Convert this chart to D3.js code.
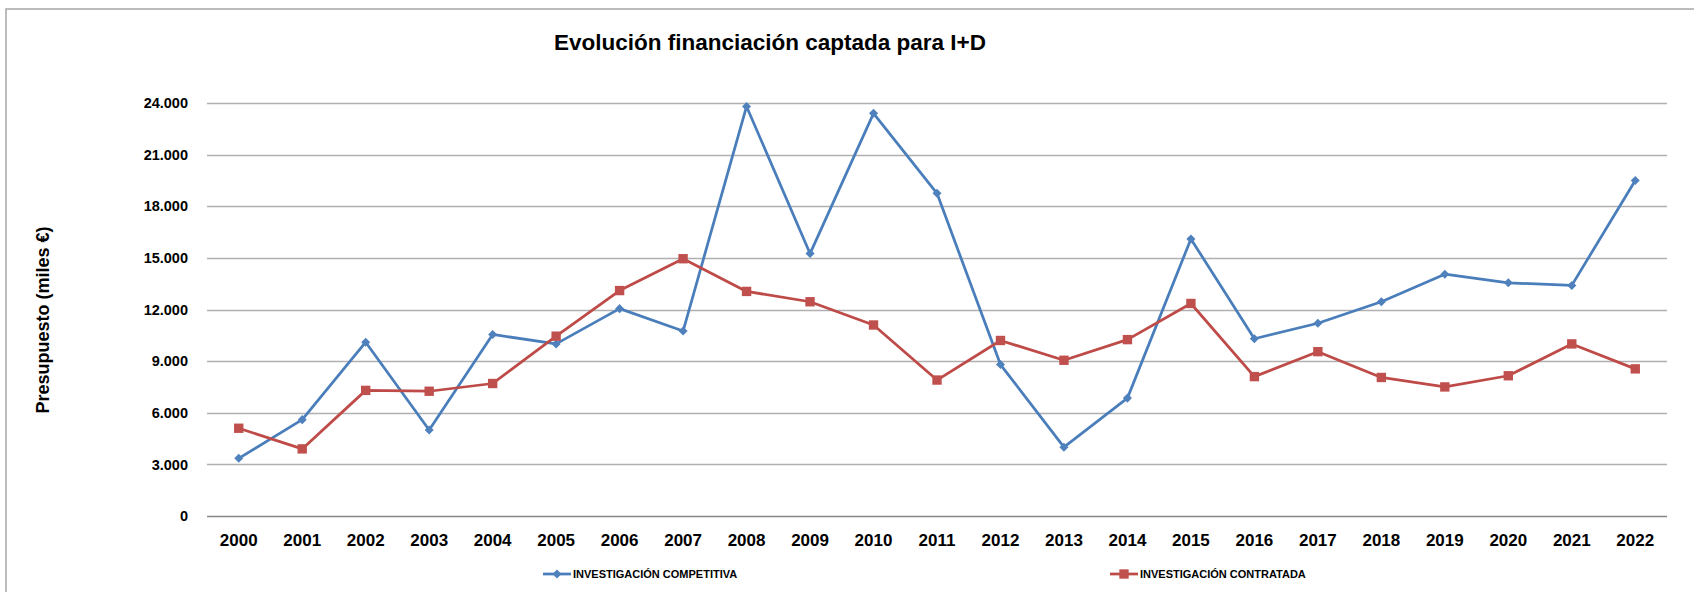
<!DOCTYPE html>
<html lang="es">
<head>
  <meta charset="UTF-8">
  <title>Evolución financiación captada para I+D</title>
  <script src="https://cdn.jsdelivr.net/npm/d3@7"></script>
  <style>
    body { margin: 0; background: #fff; }
    svg { display: block; font-family: "Liberation Sans", Arial, sans-serif; font-weight: bold; }
  </style>
</head>
<body>
  <svg width="1694" height="592"></svg>

  <script>
    // years on the x axis
    var years = ["2000", "2001", "2002", "2003", "2004", "2005", "2006", "2007", "2008", "2009", "2010", "2011",
                 "2012", "2013", "2014", "2015", "2016", "2017", "2018", "2019", "2020", "2021", "2022"];

    // miles de euros
    var competitiva = [3350, 5600, 10100, 5000, 10550, 10000, 12050, 10750, 23800, 15250, 23400, 18750,
                       8800, 4000, 6850, 16100, 10300, 11200, 12450, 14050, 13550, 13400, 19500];
    var contratada = [5100, 3900, 7300, 7250, 7700, 10450, 13100, 14950, 13050, 12450, 11100, 7900,
                      10200, 9050, 10250, 12350, 8100, 9550, 8050, 7500, 8150, 10000, 8550];

    var seriesNames = ["INVESTIGACIÓN COMPETITIVA", "INVESTIGACIÓN CONTRATADA"];
    var yTicks = [0, 3000, 6000, 9000, 12000, 15000, 18000, 21000, 24000];

    var W = 1694, H = 592;
    var margin = {top: 103, right: 27, bottom: 76, left: 207};

    var svg = d3.select("svg");

    // chart frame (only top and left edges are visible)
    svg.append("path")
      .attr("d", "M6,592V9H1694")
      .attr("fill", "none")
      .attr("stroke", "#a6a6a6")
      .attr("stroke-width", 1.5);

    svg.append("text")
      .attr("x", 770).attr("y", 50)
      .attr("text-anchor", "middle")
      .style("font-size", "22.5px")
      .text("Evolución financiación captada para I+D");

    var x = d3.scaleBand()
      .domain(years)
      .range([margin.left, W - margin.right])
      .padding(0);

    var y = d3.scaleLinear()
      .domain([0, 24000])
      .range([H - margin.bottom, margin.top]);

    var es = d3.formatLocale({decimal: ",", thousands: ".", grouping: [3], currency: ["", " €"]});
    var fmt = es.format(",.0f");

    // gridlines
    svg.append("g")
      .selectAll("line")
      .data(yTicks)
      .join("line")
      .attr("x1", margin.left)
      .attr("x2", W - margin.right)
      .attr("y1", d => Math.round(y(d)) + 0.5)
      .attr("y2", d => Math.round(y(d)) + 0.5)
      .attr("stroke", d => d === 0 ? "#868686" : "#b0b0b0")
      .attr("stroke-width", 1.5);

    var yAxis = svg.append("g")
      .attr("transform", "translate(" + margin.left + ",0)")
      .call(d3.axisLeft(y).tickValues(yTicks).tickFormat(fmt).tickSize(0).tickPadding(19));
    yAxis.select(".domain").remove();
    yAxis.selectAll("text")
      .style("font-size", "14.5px")
      .attr("fill", "#000");

    var xAxis = svg.append("g")
      .attr("transform", "translate(0," + (H - margin.bottom) + ")")
      .call(d3.axisBottom(x).tickSize(0).tickPadding(18));
    xAxis.select(".domain").remove();
    xAxis.selectAll("text")
      .style("font-size", "17px")
      .attr("fill", "#000");

    svg.append("text")
      .attr("transform", "translate(49,320) rotate(-90)")
      .attr("text-anchor", "middle")
      .style("font-size", "18px")
      .text("Presupuesto (miles €)");

    var cx = d => x(d) + x.bandwidth() / 2;

    var series = [
      {name: seriesNames[0], values: competitiva, line: "#4a7ebb", fill: "#4f81bd",
       symbol: d3.symbolDiamond2 || d3.symbolDiamond, size: 52},
      {name: seriesNames[1], values: contratada, line: "#be4b48", fill: "#c0504d",
       symbol: d3.symbolSquare, size: 88}
    ];

    var line = d3.line()
      .x((d, i) => cx(years[i]))
      .y(d => y(d));

    series.forEach(function(s) {
      svg.append("path")
        .datum(s.values)
        .attr("d", line)
        .attr("fill", "none")
        .attr("stroke", s.line)
        .attr("stroke-width", 2.75)
        .attr("stroke-linejoin", "round");

      svg.append("g")
        .selectAll("path")
        .data(s.values)
        .join("path")
        .attr("transform", (d, i) => "translate(" + cx(years[i]) + "," + y(d) + ")")
        .attr("d", d3.symbol().type(s.symbol).size(s.size))
        .attr("fill", s.fill);
    });

    // legend
    var legendX = [543, 1110];
    var legend = svg.append("g")
      .selectAll("g")
      .data(series)
      .join("g")
      .attr("transform", (d, i) => "translate(" + legendX[i] + ",574)");

    legend.append("line")
      .attr("x1", 0).attr("x2", 28)
      .attr("stroke", d => d.line)
      .attr("stroke-width", 2.75);
    legend.append("path")
      .attr("transform", "translate(14,0)")
      .attr("d", d => d3.symbol().type(d.symbol).size(d.size)())
      .attr("fill", d => d.fill);
    legend.append("text")
      .attr("x", 30)
      .attr("dy", "0.35em")
      .style("font-size", "11px")
      .text(d => d.name);
  </script>
</body>
</html>
